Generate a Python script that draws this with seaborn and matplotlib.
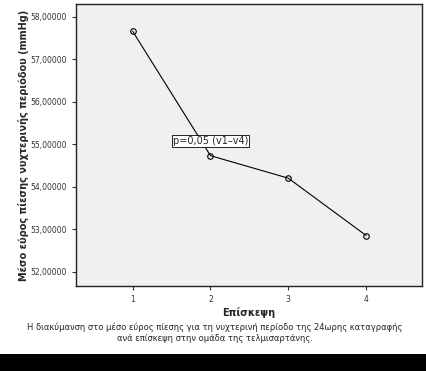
import matplotlib
matplotlib.use("Agg")
import matplotlib.pyplot as plt
import matplotlib.ticker as mticker
import seaborn as sns
import pandas as pd

# values
visits = [1, 2, 3, 4]
mean_range = [57.66, 54.73, 54.20, 52.85]
y_ticks = [52, 53, 54, 55, 56, 57, 58]

df = pd.DataFrame({"visit": visits, "value": mean_range})

sns.set_style("white")
plt.rcParams["font.family"] = ["DejaVu Sans"]

fig = plt.figure(figsize=(4.26, 3.71), dpi=100)
fig.patch.set_facecolor("white")
ax = fig.add_axes([0.178, 0.229, 0.813, 0.760])
ax.set_facecolor("#f0f0f0")

sns.lineplot(data=df, x="visit", y="value", ax=ax, color="black", linewidth=0.8,
             marker="o", markersize=4, markerfacecolor="none",
             markeredgecolor="black", markeredgewidth=0.8)

ax.set_xlim(0.27, 4.72)
ax.set_ylim(51.66, 58.30)
ax.set_xticks(visits)
ax.set_yticks(y_ticks)
ax.yaxis.set_major_formatter(mticker.FuncFormatter(lambda v, p: f"{v:.5f}".replace(".", ",")))
ax.tick_params(axis="both", labelsize=5.5, colors="#333333", length=3, width=0.8,
               direction="out", left=True, bottom=True)
for s in ax.spines.values():
    s.set_color("#222222")
    s.set_linewidth(1.0)

ax.set_xlabel("Επίσκεψη", fontsize=7, fontweight="bold", labelpad=2)
ax.set_ylabel("Μέσο εύρος πίεσης νυχτερινής περιόδου (mmHg)", fontsize=7,
              fontweight="bold", labelpad=1)

ax.text(2.0, 55.07, "p=0,05 (v1\u2013v4)", fontsize=7, ha="center", va="center",
        bbox=dict(boxstyle="square,pad=0.1", facecolor="white", edgecolor="black", linewidth=0.6))

fig.text(0.505, 0.118, "Η διακύμανση στο μέσο εύρος πίεσης για τη νυχτερινή περίοδο της 24ωρης καταγραφής",
         fontsize=6, ha="center", va="center")
fig.text(0.505, 0.088, "ανά επίσκεψη στην ομάδα της τελμισαρτάνης.",
         fontsize=6, ha="center", va="center")

fig.patches.append(plt.Rectangle((0, 0), 1, 17 / 371, transform=fig.transFigure,
                                 facecolor="black", edgecolor="none"))

fig.savefig("out.png", dpi=100)
